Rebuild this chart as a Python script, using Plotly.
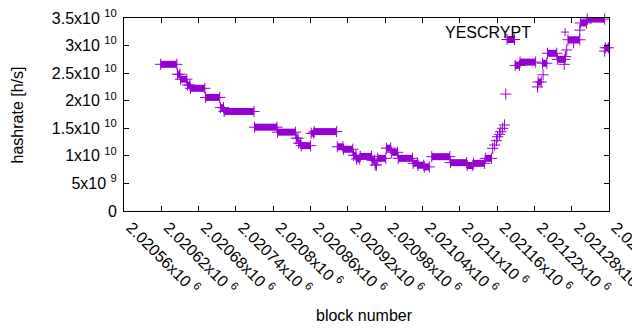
import plotly.graph_objects as go

# Runs of blocks with a constant hashrate (start block, end block, hashrate in 1e9 h/s)
seg_start = [2020619, 2020646, 2020651, 2020662, 2020667, 2020691, 2020715, 2020721,
             2020770, 2020807, 2020837, 2020841, 2020845, 2020861, 2020866, 2020903,
             2020913, 2020929, 2020934, 2020940, 2020959, 2020964, 2020968, 2020982,
             2020990, 2021001, 2021025, 2021033, 2021043, 2021055, 2021085, 2021112,
             2021122, 2021141, 2021176, 2021189, 2021197, 2021226, 2021233, 2021241,
             2021257, 2021274, 2021294, 2021305, 2021334]
seg_end = [2020645, 2020650, 2020661, 2020666, 2020690, 2020714, 2020720, 2020769,
           2020806, 2020836, 2020840, 2020844, 2020860, 2020865, 2020902, 2020912,
           2020928, 2020933, 2020939, 2020958, 2020963, 2020966, 2020981, 2020989,
           2021000, 2021024, 2021032, 2021042, 2021051, 2021084, 2021111, 2021121,
           2021140, 2021151, 2021188, 2021196, 2021222, 2021231, 2021240, 2021256,
           2021269, 2021293, 2021304, 2021333, 2021339]
seg_value = [26.6, 24.8, 23.9, 22.85, 22.25, 20.6, 18.75, 18.05,
             15.2, 14.3, 13.2, 12.3, 11.85, 14.1, 14.4, 11.65,
             11.2, 10.1, 9.45, 9.9, 9.2, 8.35, 9.55, 11.4,
             10.65, 9.55, 8.65, 8.3, 8.0, 9.85, 8.77, 8.25,
             8.65, 9.55, 31.1, 26.4, 27.0, 23.4, 26.8, 28.6,
             27.5, 31.05, 34.1, 34.8, 29.6]

# Isolated blocks
single_block = [2021153, 2021156, 2021159, 2021161, 2021164, 2021166, 2021169, 2021172,
                2021174, 2021225, 2021234, 2021268, 2021270, 2021272, 2021283, 2021293,
                2021333]
single_value = [11.37, 11.97, 12.75, 13.47, 13.9, 14.38, 15.0, 15.6,
                21.2, 22.5, 24.7, 26.6, 28.0, 29.2, 30.5, 32.8,
                29.0]

x_tick_vals = [2020560, 2020620, 2020680, 2020740, 2020800, 2020860, 2020920,
               2020980, 2021040, 2021100, 2021160, 2021220, 2021280, 2021340]
x_tick_text = ["2.02056x10 <sup>6</sup>", "2.02062x10 <sup>6</sup>", "2.02068x10 <sup>6</sup>",
               "2.02074x10 <sup>6</sup>", "2.0208x10 <sup>6</sup>", "2.02086x10 <sup>6</sup>",
               "2.02092x10 <sup>6</sup>", "2.02098x10 <sup>6</sup>", "2.02104x10 <sup>6</sup>",
               "2.0211x10 <sup>6</sup>", "2.02116x10 <sup>6</sup>", "2.02122x10 <sup>6</sup>",
               "2.02128x10 <sup>6</sup>", "2.02134x10 <sup>6</sup>"]
y_tick_vals = [0, 5e9, 1e10, 1.5e10, 2e10, 2.5e10, 3e10, 3.5e10]
y_tick_text = ["0", "5x10 <sup>9</sup>", "1x10 <sup>10</sup>", "1.5x10 <sup>10</sup>",
               "2x10 <sup>10</sup>", "2.5x10 <sup>10</sup>", "3x10 <sup>10</sup>",
               "3.5x10 <sup>10</sup>"]

COLOR = "#9400d3"
FONT = "Liberation Sans"

bx, by = [], []
for s, e, v in zip(seg_start, seg_end, seg_value):
    bx += [s, e, None]
    by += [v * 1e9, v * 1e9, None]

marker = dict(symbol="cross-thin", size=8, color=COLOR, line=dict(color=COLOR, width=1))

fig = go.Figure()
fig.add_trace(go.Scatter(x=bx, y=by, mode="lines+markers",
                         line=dict(color=COLOR, width=7), marker=marker,
                         cliponaxis=False, showlegend=False, hoverinfo="skip"))
fig.add_trace(go.Scatter(x=single_block, y=[v * 1e9 for v in single_value], mode="markers",
                         marker=marker, cliponaxis=False, showlegend=False))

axis_common = dict(showline=True, linecolor="black", linewidth=1, mirror="ticks",
                   ticks="inside", ticklen=5, tickcolor="black", showgrid=False,
                   zeroline=False, ticklabeloverflow="allow",
                   tickfont=dict(family=FONT, size=16, color="black"))

fig.update_xaxes(range=[2020560, 2021340], tickvals=x_tick_vals, ticktext=x_tick_text,
                 tickangle=45, ticklabelshift=7, **axis_common)
fig.update_yaxes(range=[0, 3.5e10], tickvals=y_tick_vals, ticktext=y_tick_text,
                 ticklabelstandoff=3, **axis_common)

# page body has an 8px margin: figure is drawn 8px right/down of the window origin
fig.update_layout(
    width=640, height=330,
    margin=dict(l=116, r=39, t=10, b=127, autoexpand=False),
    paper_bgcolor="white", plot_bgcolor="white",
    font=dict(family=FONT, size=16, color="black"),
    annotations=[
        dict(text="hashrate [h/s]", xref="paper", yref="paper", x=-0.2186, y=0.5,
             textangle=-90, showarrow=False, xanchor="center", yanchor="middle",
             font=dict(size=16)),
        dict(text="block number", xref="paper", yref="paper", x=0.495, y=-0.539,
             showarrow=False, xanchor="center", yanchor="middle", font=dict(size=16)),
        dict(text="YESCRYPT", xref="paper", yref="paper", x=0.843, y=0.927,
             showarrow=False, xanchor="right", yanchor="middle", font=dict(size=16)),
    ],
    shapes=[
        dict(type="line", xref="paper", yref="paper", x0=0.9013, x1=0.9178, y0=0.927, y1=0.927,
             line=dict(color=COLOR, width=1)),
        dict(type="line", xref="paper", yref="paper", x0=0.9095, x1=0.9095, y0=0.906, y1=0.948,
             line=dict(color=COLOR, width=1)),
    ],
)

fig.write_html("out.html")
